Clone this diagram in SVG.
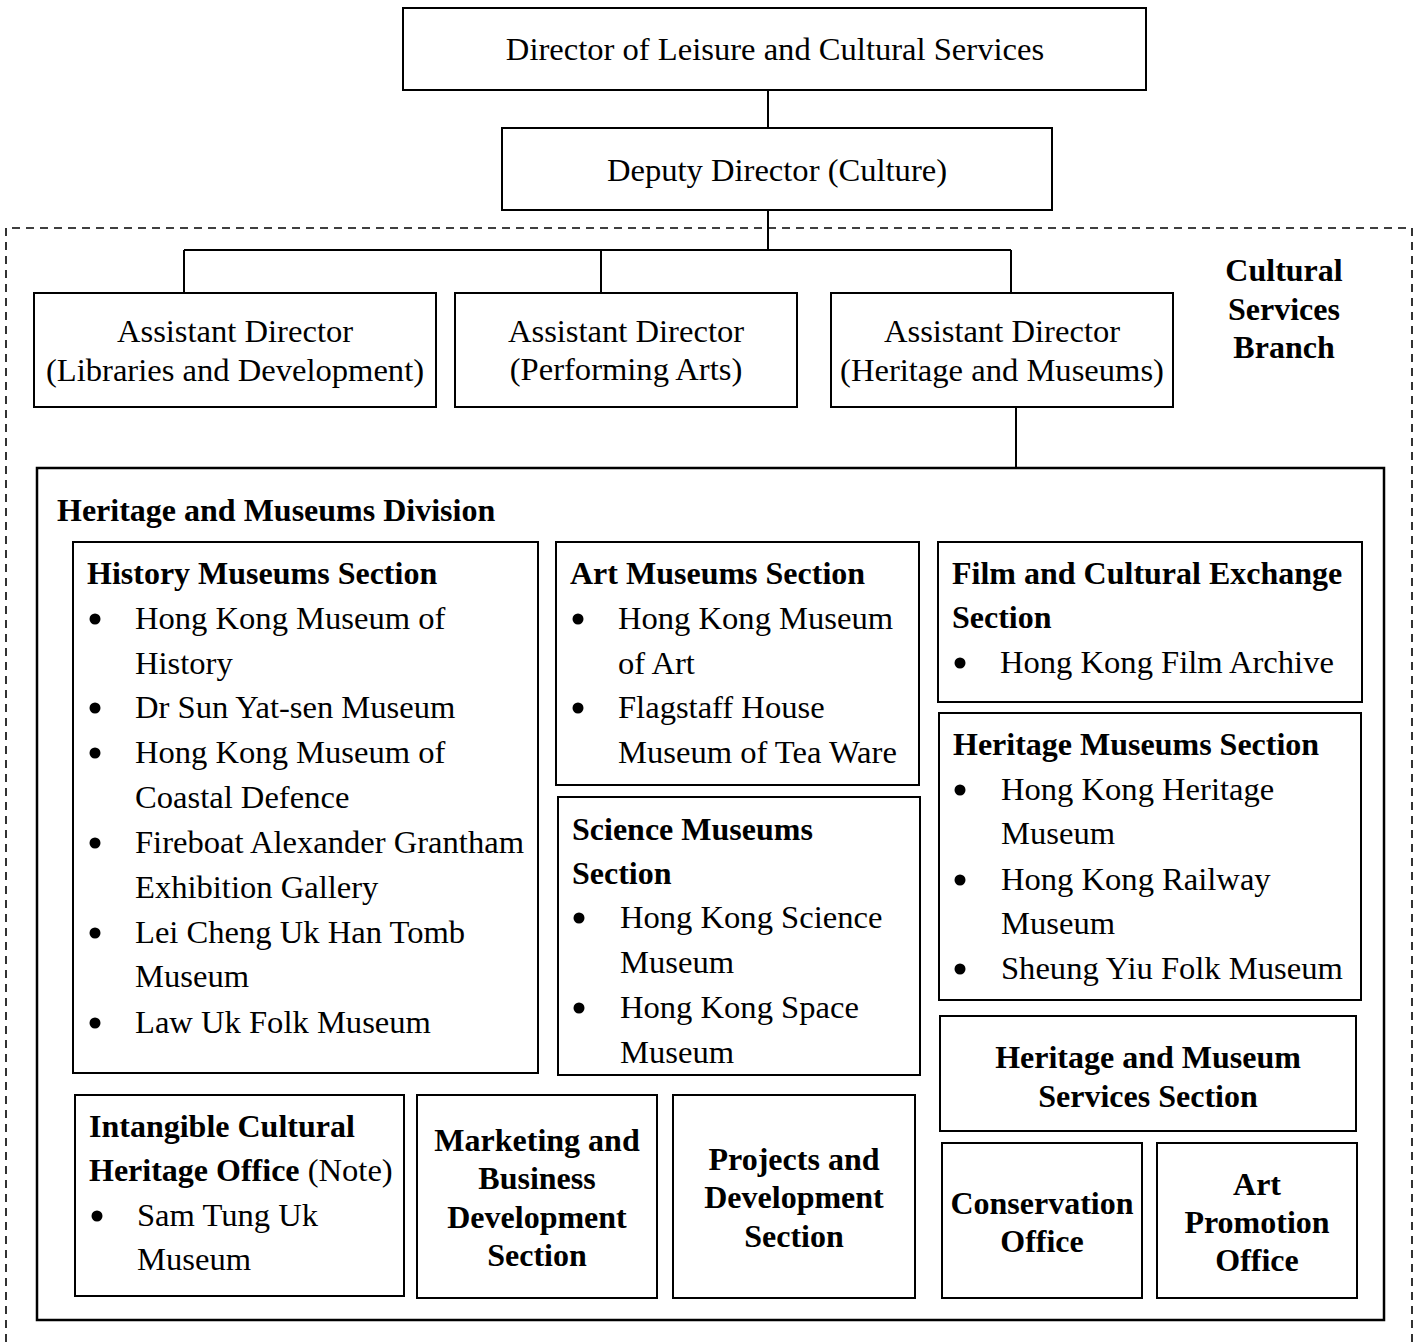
<svg xmlns="http://www.w3.org/2000/svg" width="1420" height="1342" viewBox="0 0 1420 1342">
<style>
text{font-family:"Liberation Serif","Times New Roman",serif;font-size:32.6px;fill:#000}
.b{font-weight:bold;font-size:32px}
.c{text-anchor:middle}
.box{fill:#fff;stroke:#000;stroke-width:2}
.div{fill:none;stroke:#000;stroke-width:2.5}
.ln{fill:none;stroke:#000;stroke-width:2}
.dash{fill:none;stroke:#000;stroke-width:1.6;stroke-dasharray:8 6}
.dot{fill:#000}
</style>
<rect width="1420" height="1342" fill="#fff"/>
<g id="branch">
<path class="dash" d="M6,1342 V228 H1412 V1342"/>
<text class="b c" x="1284" y="281">Cultural</text>
<text class="b c" x="1284" y="320">Services</text>
<text class="b c" x="1284" y="358">Branch</text>
</g>
<g id="connectors">
<path class="ln" d="M768,90 V128"/>
<path class="ln" d="M768,210 V250 M184,250 H1011 M184,250 V293 M601,250 V293 M1011,250 V293"/>
<path class="ln" d="M1016,407 V468"/>
</g>
<g id="director">
<rect class="box" x="403" y="8" width="743" height="82"/>
<text class="c" x="775" y="60">Director of Leisure and Cultural Services</text>
</g>
<g id="deputy">
<rect class="box" x="502" y="128" width="550" height="82"/>
<text class="c" x="777" y="181">Deputy Director (Culture)</text>
</g>
<g id="ad-libraries">
<rect class="box" x="34" y="293" width="402" height="114"/>
<text class="c" x="235" y="342">Assistant Director</text>
<text class="c" x="235" y="381">(Libraries and Development)</text>
</g>
<g id="ad-performing">
<rect class="box" x="455" y="293" width="342" height="114"/>
<text class="c" x="626" y="342">Assistant Director</text>
<text class="c" x="626" y="380">(Performing Arts)</text>
</g>
<g id="ad-heritage">
<rect class="box" x="831" y="293" width="342" height="114"/>
<text class="c" x="1002" y="342">Assistant Director</text>
<text class="c" x="1002" y="381">(Heritage and Museums)</text>
</g>
<g id="division">
<rect class="div" x="37" y="468" width="1347" height="852"/>
<text class="b" x="57" y="521">Heritage and Museums Division</text>
</g>
<g id="history">
<rect class="box" x="73" y="542" width="465" height="531"/>
<text class="b" x="87" y="584">History Museums Section</text>
<circle class="dot" cx="95" cy="619" r="5.5"/><text x="135" y="629">Hong Kong Museum of</text>
<text x="135" y="674">History</text>
<circle class="dot" cx="95" cy="708" r="5.5"/><text x="135" y="718">Dr Sun Yat-sen Museum</text>
<circle class="dot" cx="95" cy="753" r="5.5"/><text x="135" y="763">Hong Kong Museum of</text>
<text x="135" y="808">Coastal Defence</text>
<circle class="dot" cx="95" cy="843" r="5.5"/><text x="135" y="853">Fireboat Alexander Grantham</text>
<text x="135" y="898">Exhibition Gallery</text>
<circle class="dot" cx="95" cy="933" r="5.5"/><text x="135" y="943">Lei Cheng Uk Han Tomb</text>
<text x="135" y="987">Museum</text>
<circle class="dot" cx="95" cy="1023" r="5.5"/><text x="135" y="1033">Law Uk Folk Museum</text>
</g>
<g id="art">
<rect class="box" x="556" y="542" width="363" height="243"/>
<text class="b" x="570" y="584">Art Museums Section</text>
<circle class="dot" cx="578" cy="619" r="5.5"/><text x="618" y="629">Hong Kong Museum</text>
<text x="618" y="674">of Art</text>
<circle class="dot" cx="578" cy="708" r="5.5"/><text x="618" y="718">Flagstaff House</text>
<text x="618" y="763">Museum of Tea Ware</text>
</g>
<g id="science">
<rect class="box" x="558" y="797" width="362" height="278"/>
<text class="b" x="572" y="840">Science Museums</text>
<text class="b" x="572" y="884">Section</text>
<circle class="dot" cx="579" cy="918" r="5.5"/><text x="620" y="928">Hong Kong Science</text>
<text x="620" y="973">Museum</text>
<circle class="dot" cx="579" cy="1008" r="5.5"/><text x="620" y="1018">Hong Kong Space</text>
<text x="620" y="1063">Museum</text>
</g>
<g id="film">
<rect class="box" x="938" y="542" width="424" height="160"/>
<text class="b" x="952" y="584">Film and Cultural Exchange</text>
<text class="b" x="952" y="628">Section</text>
<circle class="dot" cx="960" cy="663" r="5.5"/><text x="1000" y="673">Hong Kong Film Archive</text>
</g>
<g id="heritage-museums">
<rect class="box" x="939" y="713" width="422" height="287"/>
<text class="b" x="953" y="755">Heritage Museums Section</text>
<circle class="dot" cx="960" cy="790" r="5.5"/><text x="1001" y="800">Hong Kong Heritage</text>
<text x="1001" y="844">Museum</text>
<circle class="dot" cx="960" cy="880" r="5.5"/><text x="1001" y="890">Hong Kong Railway</text>
<text x="1001" y="934">Museum</text>
<circle class="dot" cx="960" cy="969" r="5.5"/><text x="1001" y="979">Sheung Yiu Folk Museum</text>
</g>
<g id="hm-services">
<rect class="box" x="940" y="1016" width="416" height="115"/>
<text class="b c" x="1148" y="1068">Heritage and Museum</text>
<text class="b c" x="1148" y="1107">Services Section</text>
</g>
<g id="conservation">
<rect class="box" x="942" y="1143" width="200" height="155"/>
<text class="b c" x="1042" y="1214">Conservation</text>
<text class="b c" x="1042" y="1252">Office</text>
</g>
<g id="art-promotion">
<rect class="box" x="1157" y="1143" width="200" height="155"/>
<text class="b c" x="1257" y="1195">Art</text>
<text class="b c" x="1257" y="1233">Promotion</text>
<text class="b c" x="1257" y="1271">Office</text>
</g>
<g id="intangible">
<rect class="box" x="75" y="1095" width="329" height="201"/>
<text class="b" x="89" y="1137">Intangible Cultural</text>
<text x="89" y="1181"><tspan class="b">Heritage Office</tspan> (Note)</text>
<circle class="dot" cx="97" cy="1216" r="5.5"/><text x="137" y="1226">Sam Tung Uk</text>
<text x="137" y="1270">Museum</text>
</g>
<g id="marketing">
<rect class="box" x="417" y="1095" width="240" height="203"/>
<text class="b c" x="537" y="1151">Marketing and</text>
<text class="b c" x="537" y="1189">Business</text>
<text class="b c" x="537" y="1228">Development</text>
<text class="b c" x="537" y="1266">Section</text>
</g>
<g id="projects">
<rect class="box" x="673" y="1095" width="242" height="203"/>
<text class="b c" x="794" y="1170">Projects and</text>
<text class="b c" x="794" y="1208">Development</text>
<text class="b c" x="794" y="1247">Section</text>
</g>
</svg>
